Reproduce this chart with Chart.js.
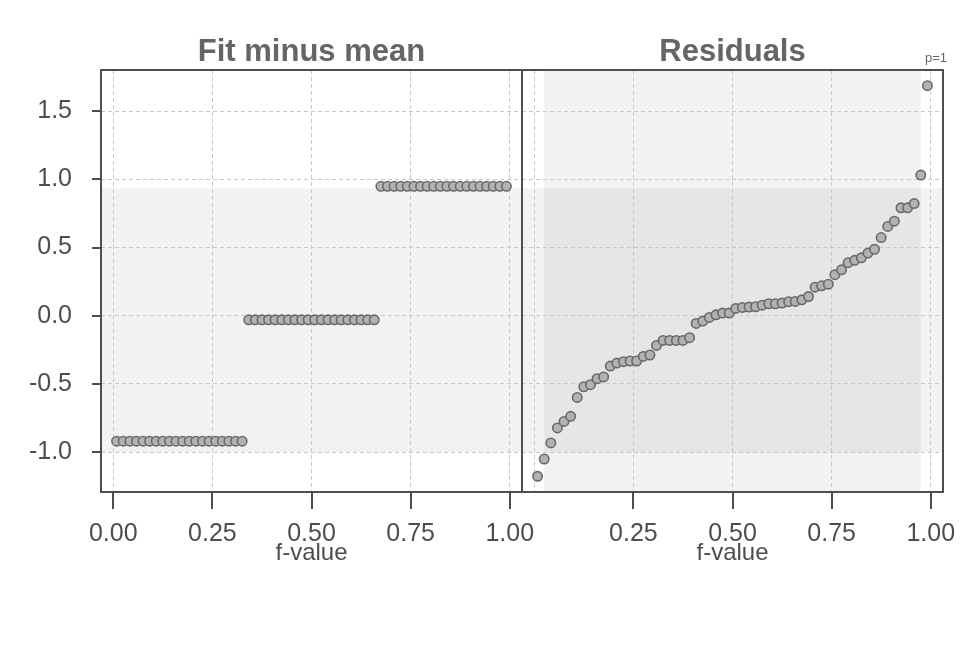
<!DOCTYPE html>
<html><head><meta charset="utf-8">
<script src="https://cdn.jsdelivr.net/npm/chart.js@4.4.1/dist/chart.umd.min.js"></script>
<style>
html,body{margin:0;padding:0;background:#fff;width:960px;height:672px;overflow:hidden}
canvas{position:absolute;left:0;top:0}
</style></head>
<body>
<canvas id="c1" width="960" height="672"></canvas>
<canvas id="c2" width="960" height="672"></canvas>
<script>
// ---------- data ----------
const fValues = [0.0083,0.0250,0.0417,0.0583,0.0750,0.0917,0.1083,0.1250,0.1417,0.1583,
  0.1750,0.1917,0.2083,0.2250,0.2417,0.2583,0.2750,0.2917,0.3083,0.3250,
  0.3417,0.3583,0.3750,0.3917,0.4083,0.4250,0.4417,0.4583,0.4750,0.4917,
  0.5083,0.5250,0.5417,0.5583,0.5750,0.5917,0.6083,0.6250,0.6417,0.6583,
  0.6750,0.6917,0.7083,0.7250,0.7417,0.7583,0.7750,0.7917,0.8083,0.8250,
  0.8417,0.8583,0.8750,0.8917,0.9083,0.9250,0.9417,0.9583,0.9750,0.9917];
const fitMinusMean = [-0.92,-0.92,-0.92,-0.92,-0.92,-0.92,-0.92,-0.92,-0.92,-0.92,
  -0.92,-0.92,-0.92,-0.92,-0.92,-0.92,-0.92,-0.92,-0.92,-0.92,
  -0.03,-0.03,-0.03,-0.03,-0.03,-0.03,-0.03,-0.03,-0.03,-0.03,
  -0.03,-0.03,-0.03,-0.03,-0.03,-0.03,-0.03,-0.03,-0.03,-0.03,
  0.95,0.95,0.95,0.95,0.95,0.95,0.95,0.95,0.95,0.95,
  0.95,0.95,0.95,0.95,0.95,0.95,0.95,0.95,0.95,0.95];
const residuals = [-1.178,-1.051,-0.933,-0.823,-0.775,-0.738,-0.599,-0.521,-0.506,-0.462,
  -0.449,-0.369,-0.347,-0.337,-0.332,-0.332,-0.298,-0.288,-0.218,-0.181,
  -0.181,-0.181,-0.181,-0.161,-0.056,-0.039,-0.012,0.007,0.020,0.020,
  0.054,0.061,0.064,0.066,0.078,0.088,0.088,0.093,0.103,0.105,
  0.117,0.141,0.210,0.220,0.232,0.301,0.337,0.389,0.407,0.425,
  0.460,0.488,0.574,0.655,0.694,0.792,0.792,0.823,1.032,1.688];
const xTickValues = [0, 0.25, 0.5, 0.75, 1];
const yTickValues = [-1.0, -0.5, 0, 0.5, 1.0, 1.5];
const panelTitles = ['Fit minus mean', 'Residuals'];
const xAxisTitle = 'f-value';
const residualSpread = [-1.0, 0.935];   // central 95% of residuals
const fSpread = [0.025, 0.975];
const cornerNote = 'p=1';

// ---------- style ----------
const X_MIN = -0.031, X_MAX = 1.031, Y_MIN = -1.293, Y_MAX = 1.803;
const FONT = '"Liberation Sans", Arial, Helvetica, sans-serif';
const TXT = '#4d4d4d';
const GRID = '#c8c8c8';
const FRAME = '#4f4f4f';

function panelPlugin(side) {
  return {
    id: 'panel_' + side,
    beforeDraw(chart) {
      const ctx = chart.ctx, a = chart.chartArea;
      const xs = chart.scales.x, ys = chart.scales.y;
      ctx.save();
      ctx.fillStyle = 'rgba(0,0,0,0.052)';
      const yTop = ys.getPixelForValue(residualSpread[1]);
      const yBot = ys.getPixelForValue(residualSpread[0]);
      ctx.fillRect(a.left, yTop, a.right - a.left, yBot - yTop);
      if (side === 'right') {
        const x0 = xs.getPixelForValue(fSpread[0]);
        const x1 = xs.getPixelForValue(fSpread[1]);
        ctx.fillRect(x0, a.top, x1 - x0, a.bottom - a.top);
      }
      ctx.restore();
    },
    afterDraw(chart) {
      const ctx = chart.ctx, a = chart.chartArea;
      const xs = chart.scales.x, ys = chart.scales.y;
      ctx.save();
      ctx.strokeStyle = FRAME; ctx.lineWidth = 2;
      ctx.strokeRect(a.left, a.top, a.right - a.left, a.bottom - a.top);
      ctx.strokeStyle = TXT; ctx.lineWidth = 2;
      ctx.beginPath();
      xTickValues.forEach(v => {
        if (side === 'right' && v === 0) return;
        const px = Math.round(xs.getPixelForValue(v));
        ctx.moveTo(px, a.bottom); ctx.lineTo(px, a.bottom + 17);
      });
      if (side === 'left') {
        yTickValues.forEach(v => {
          const py = Math.round(ys.getPixelForValue(v));
          ctx.moveTo(a.left - 9, py); ctx.lineTo(a.left, py);
        });
      }
      ctx.stroke();
      ctx.fillStyle = '#656565';
      ctx.font = 'bold 31px ' + FONT;
      ctx.textAlign = 'center'; ctx.textBaseline = 'middle';
      ctx.fillText(panelTitles[side === 'left' ? 0 : 1], (a.left + a.right) / 2, 52);
      if (side === 'right') {
        ctx.font = '13px ' + FONT;
        ctx.fillStyle = '#666';
        ctx.fillText(cornerNote, 936, 58);
      }
      ctx.restore();
    }
  };
}

function makeChart(id, side, values) {
  const left = side === 'left';
  return new Chart(document.getElementById(id), {
    type: 'scatter',
    data: { datasets: [{
      data: fValues.map((f, i) => ({ x: f, y: values[i] })),
      pointRadius: 4.7, pointHoverRadius: 4.7,
      backgroundColor: '#b2b2b2', borderColor: '#696969', borderWidth: 1.6
    }]},
    options: {
      responsive: false, animation: false, events: [],
      layout: { padding: left ? { left: 0, right: 438, top: 70, bottom: 104 }
                              : { left: 522, right: 17, top: 70, bottom: 104 } },
      plugins: { legend: { display: false }, tooltip: { enabled: false }, title: { display: false } },
      scales: {
        x: {
          type: 'linear', min: X_MIN, max: X_MAX,
          afterBuildTicks: s => { s.ticks = xTickValues.map(v => ({ value: v })); },
          afterFit: s => { s.height = 76; s.paddingLeft = 0; s.paddingRight = 0; },
          grid: { color: GRID, lineWidth: 1, drawTicks: false },
          border: { display: false, dash: [4, 3] },
          ticks: {
            color: TXT, font: { family: FONT, size: 25 }, padding: 27, maxRotation: 0,
            callback: v => (!left && v === 0) ? '' : v.toFixed(2)
          },
          title: { display: true, text: xAxisTitle, color: TXT,
                   font: { family: FONT, size: 24 }, padding: 0 }
        },
        y: {
          type: 'linear', min: Y_MIN, max: Y_MAX,
          afterBuildTicks: s => { s.ticks = yTickValues.map(v => ({ value: v })); },
          afterFit: s => { s.width = left ? 101 : 0; s.paddingTop = 0; s.paddingBottom = 0; },
          grid: { color: GRID, lineWidth: 1, drawTicks: false },
          border: { display: false, dash: [4, 3] },
          ticks: {
            display: left, color: TXT, font: { family: FONT, size: 25 }, padding: 29,
            callback: v => v.toFixed(1)
          }
        }
      }
    },
    plugins: [panelPlugin(side)]
  });
}

makeChart('c1', 'left', fitMinusMean);
makeChart('c2', 'right', residuals);
</script>
</body></html>
